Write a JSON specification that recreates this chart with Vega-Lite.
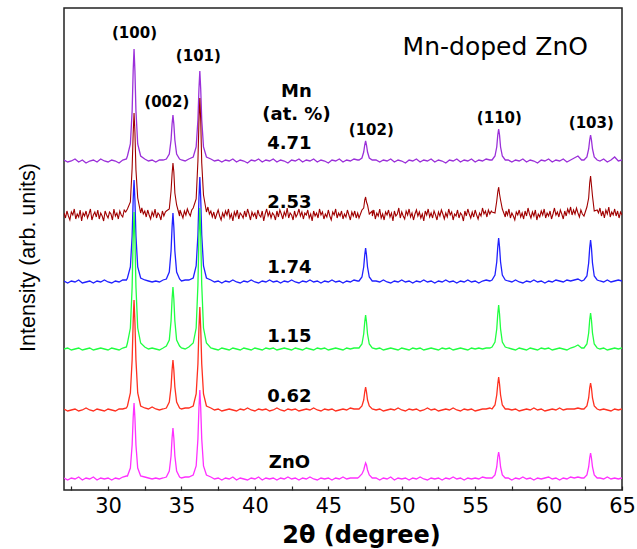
{
"$schema": "https://vega.github.io/schema/vega-lite/v6.json",
"width": 558, "height": 482,
"autosize": "none",
"padding": {"left": 64, "top": 8, "right": 15, "bottom": 59},
"background": "white",
"config": {"view": {"stroke": "#222222", "strokeWidth": 1.5}, "axis": {"grid": false}},
"resolve": {"axis": {"x": "independent"}},
"datasets": {
"xrd": [
{"x":27.00,"s471":330,"s174":209,"s115":141,"s062":81,"zno":12},
{"x":27.25,"s471":328,"s174":207,"s115":142,"s062":79,"zno":10},
{"x":27.50,"s471":329,"s174":209,"s115":140,"s062":80,"zno":12},
{"x":27.75,"s471":331,"s174":208,"s115":141,"s062":81,"zno":11},
{"x":28.00,"s471":328,"s174":210,"s115":142,"s062":79,"zno":13},
{"x":28.25,"s471":330,"s174":207,"s115":140,"s062":80,"zno":10},
{"x":28.50,"s471":327,"s174":208,"s115":141,"s062":82,"zno":12},
{"x":28.75,"s471":329,"s174":209,"s115":142,"s062":80,"zno":11},
{"x":29.00,"s471":330,"s174":207,"s115":140,"s062":79,"zno":13},
{"x":29.25,"s471":328,"s174":209,"s115":141,"s062":81,"zno":10},
{"x":29.50,"s471":331,"s174":208,"s115":142,"s062":80,"zno":12},
{"x":29.75,"s471":329,"s174":210,"s115":141,"s062":79,"zno":11},
{"x":30.00,"s471":328,"s174":208,"s115":140,"s062":81,"zno":12},
{"x":30.25,"s471":330,"s174":207,"s115":142,"s062":80,"zno":10},
{"x":30.50,"s471":329,"s174":209,"s115":141,"s062":79,"zno":12},
{"x":30.75,"s471":327,"s174":208,"s115":140,"s062":81,"zno":11},
{"x":31.00,"s471":330,"s174":210,"s115":142,"s062":81,"zno":13},
{"x":31.25,"s471":331,"s174":210,"s115":143,"s062":82,"zno":14},
{"x":31.32,"s471":334,"s174":212,"s115":147,"s062":84,"zno":14},
{"x":31.52,"s471":346,"s174":223,"s115":162,"s062":97,"zno":22},
{"x":31.64,"s471":379,"s174":254,"s115":203,"s062":130,"zno":45},
{"x":31.71,"s471":419,"s174":290,"s115":251,"s062":168,"zno":72},
{"x":31.77,"s471":441,"s174":310,"s115":278,"s062":190,"zno":87},
{"x":31.83,"s471":419,"s174":290,"s115":251,"s062":168,"zno":72},
{"x":31.90,"s471":379,"s174":254,"s115":203,"s062":130,"zno":45},
{"x":32.02,"s471":346,"s174":223,"s115":162,"s062":97,"zno":22},
{"x":32.22,"s471":334,"s174":212,"s115":147,"s062":84,"zno":14},
{"x":32.50,"s471":331,"s174":210,"s115":143,"s062":82,"zno":13},
{"x":32.75,"s471":329,"s174":209,"s115":141,"s062":81,"zno":12},
{"x":33.00,"s471":330,"s174":208,"s115":142,"s062":83,"zno":11},
{"x":33.25,"s471":328,"s174":209,"s115":141,"s062":81,"zno":12},
{"x":33.50,"s471":330,"s174":208,"s115":140,"s062":80,"zno":11},
{"x":33.75,"s471":330,"s174":210,"s115":142,"s062":81,"zno":12},
{"x":33.97,"s471":331,"s174":211,"s115":144,"s062":82,"zno":13},
{"x":34.17,"s471":336,"s174":218,"s115":150,"s062":88,"zno":19},
{"x":34.29,"s471":350,"s174":239,"s115":169,"s062":103,"zno":34},
{"x":34.36,"s471":366,"s174":263,"s115":191,"s062":120,"zno":52},
{"x":34.42,"s471":375,"s174":277,"s115":203,"s062":130,"zno":62},
{"x":34.48,"s471":366,"s174":263,"s115":191,"s062":120,"zno":52},
{"x":34.55,"s471":350,"s174":239,"s115":169,"s062":103,"zno":34},
{"x":34.67,"s471":336,"s174":218,"s115":150,"s062":88,"zno":19},
{"x":34.87,"s471":331,"s174":211,"s115":144,"s062":82,"zno":13},
{"x":35.00,"s471":330,"s174":209,"s115":142,"s062":81,"zno":12},
{"x":35.25,"s471":329,"s174":210,"s115":141,"s062":82,"zno":13},
{"x":35.50,"s471":331,"s174":210,"s115":143,"s062":82,"zno":13},
{"x":35.80,"s471":333,"s174":212,"s115":147,"s062":84,"zno":15},
{"x":36.00,"s471":343,"s174":224,"s115":162,"s062":96,"zno":24},
{"x":36.12,"s471":370,"s174":255,"s115":205,"s062":126,"zno":51},
{"x":36.19,"s471":401,"s174":292,"s115":254,"s062":162,"zno":82},
{"x":36.25,"s471":419,"s174":313,"s115":282,"s062":183,"zno":100},
{"x":36.31,"s471":401,"s174":292,"s115":254,"s062":162,"zno":82},
{"x":36.38,"s471":370,"s174":255,"s115":205,"s062":126,"zno":51},
{"x":36.50,"s471":343,"s174":224,"s115":162,"s062":96,"zno":24},
{"x":36.70,"s471":333,"s174":212,"s115":147,"s062":84,"zno":15},
{"x":37.00,"s471":331,"s174":210,"s115":142,"s062":82,"zno":13},
{"x":37.25,"s471":329,"s174":208,"s115":141,"s062":80,"zno":11},
{"x":37.50,"s471":330,"s174":209,"s115":140,"s062":81,"zno":12},
{"x":37.75,"s471":328,"s174":207,"s115":142,"s062":79,"zno":10},
{"x":38.00,"s471":330,"s174":209,"s115":141,"s062":80,"zno":12},
{"x":38.25,"s471":329,"s174":208,"s115":140,"s062":81,"zno":11},
{"x":38.50,"s471":331,"s174":210,"s115":142,"s062":80,"zno":13},
{"x":38.75,"s471":328,"s174":208,"s115":141,"s062":79,"zno":10},
{"x":39.00,"s471":330,"s174":207,"s115":140,"s062":81,"zno":12},
{"x":39.25,"s471":329,"s174":209,"s115":142,"s062":80,"zno":11},
{"x":39.50,"s471":327,"s174":208,"s115":141,"s062":82,"zno":10},
{"x":39.75,"s471":330,"s174":210,"s115":140,"s062":80,"zno":12},
{"x":40.00,"s471":329,"s174":208,"s115":142,"s062":79,"zno":11},
{"x":40.25,"s471":331,"s174":207,"s115":141,"s062":81,"zno":13},
{"x":40.50,"s471":328,"s174":209,"s115":140,"s062":80,"zno":10},
{"x":40.75,"s471":330,"s174":208,"s115":142,"s062":81,"zno":12},
{"x":41.00,"s471":329,"s174":210,"s115":141,"s062":79,"zno":11},
{"x":41.25,"s471":331,"s174":208,"s115":142,"s062":80,"zno":12},
{"x":41.50,"s471":328,"s174":209,"s115":140,"s062":82,"zno":10},
{"x":41.75,"s471":330,"s174":207,"s115":141,"s062":80,"zno":12},
{"x":42.00,"s471":329,"s174":209,"s115":142,"s062":79,"zno":11},
{"x":42.25,"s471":327,"s174":208,"s115":141,"s062":81,"zno":13},
{"x":42.50,"s471":330,"s174":210,"s115":140,"s062":80,"zno":11},
{"x":42.75,"s471":329,"s174":208,"s115":142,"s062":81,"zno":12},
{"x":43.00,"s471":331,"s174":207,"s115":141,"s062":79,"zno":10},
{"x":43.25,"s471":328,"s174":209,"s115":140,"s062":80,"zno":12},
{"x":43.50,"s471":330,"s174":208,"s115":142,"s062":81,"zno":11},
{"x":43.75,"s471":329,"s174":210,"s115":141,"s062":80,"zno":13},
{"x":44.00,"s471":331,"s174":208,"s115":140,"s062":82,"zno":11},
{"x":44.25,"s471":328,"s174":209,"s115":142,"s062":80,"zno":10},
{"x":44.50,"s471":330,"s174":207,"s115":141,"s062":79,"zno":12},
{"x":44.75,"s471":329,"s174":209,"s115":142,"s062":81,"zno":11},
{"x":45.00,"s471":327,"s174":208,"s115":140,"s062":80,"zno":12},
{"x":45.25,"s471":330,"s174":210,"s115":141,"s062":81,"zno":10},
{"x":45.50,"s471":329,"s174":208,"s115":142,"s062":79,"zno":12},
{"x":45.75,"s471":331,"s174":209,"s115":141,"s062":80,"zno":11},
{"x":46.00,"s471":328,"s174":207,"s115":140,"s062":81,"zno":13},
{"x":46.25,"s471":330,"s174":209,"s115":142,"s062":80,"zno":11},
{"x":46.50,"s471":329,"s174":208,"s115":141,"s062":82,"zno":12},
{"x":46.75,"s471":331,"s174":210,"s115":142,"s062":81,"zno":12},
{"x":47.00,"s471":330,"s174":209,"s115":142,"s062":81,"zno":12},
{"x":47.09,"s471":330,"s174":209,"s115":142,"s062":81,"zno":13},
{"x":47.29,"s471":332,"s174":213,"s115":146,"s062":84,"zno":16},
{"x":47.41,"s471":338,"s174":223,"s115":156,"s062":90,"zno":20},
{"x":47.48,"s471":345,"s174":235,"s115":168,"s062":98,"zno":24},
{"x":47.54,"s471":349,"s174":242,"s115":175,"s062":103,"zno":27},
{"x":47.60,"s471":345,"s174":235,"s115":168,"s062":98,"zno":25},
{"x":47.67,"s471":338,"s174":223,"s115":156,"s062":90,"zno":20},
{"x":47.79,"s471":332,"s174":213,"s115":146,"s062":84,"zno":15},
{"x":47.99,"s471":330,"s174":209,"s115":142,"s062":81,"zno":12},
{"x":48.25,"s471":330,"s174":209,"s115":141,"s062":80,"zno":12},
{"x":48.50,"s471":328,"s174":208,"s115":142,"s062":81,"zno":10},
{"x":48.75,"s471":330,"s174":210,"s115":140,"s062":79,"zno":12},
{"x":49.00,"s471":329,"s174":208,"s115":141,"s062":80,"zno":11},
{"x":49.25,"s471":331,"s174":207,"s115":142,"s062":81,"zno":13},
{"x":49.50,"s471":328,"s174":209,"s115":141,"s062":80,"zno":10},
{"x":49.75,"s471":330,"s174":208,"s115":140,"s062":82,"zno":12},
{"x":50.00,"s471":329,"s174":210,"s115":142,"s062":80,"zno":11},
{"x":50.25,"s471":327,"s174":208,"s115":141,"s062":79,"zno":12},
{"x":50.50,"s471":330,"s174":209,"s115":140,"s062":81,"zno":10},
{"x":50.75,"s471":329,"s174":207,"s115":142,"s062":80,"zno":12},
{"x":51.00,"s471":331,"s174":209,"s115":141,"s062":81,"zno":11},
{"x":51.25,"s471":328,"s174":208,"s115":142,"s062":79,"zno":13},
{"x":51.50,"s471":330,"s174":210,"s115":140,"s062":80,"zno":11},
{"x":51.75,"s471":329,"s174":208,"s115":141,"s062":82,"zno":10},
{"x":52.00,"s471":331,"s174":209,"s115":142,"s062":80,"zno":12},
{"x":52.25,"s471":328,"s174":207,"s115":141,"s062":81,"zno":11},
{"x":52.50,"s471":330,"s174":209,"s115":140,"s062":79,"zno":12},
{"x":52.75,"s471":329,"s174":208,"s115":142,"s062":80,"zno":10},
{"x":53.00,"s471":327,"s174":210,"s115":141,"s062":81,"zno":12},
{"x":53.25,"s471":330,"s174":208,"s115":142,"s062":80,"zno":11},
{"x":53.50,"s471":329,"s174":209,"s115":140,"s062":82,"zno":13},
{"x":53.75,"s471":331,"s174":207,"s115":141,"s062":80,"zno":11},
{"x":54.00,"s471":328,"s174":209,"s115":142,"s062":79,"zno":12},
{"x":54.25,"s471":330,"s174":208,"s115":141,"s062":81,"zno":10},
{"x":54.50,"s471":329,"s174":210,"s115":140,"s062":80,"zno":12},
{"x":54.75,"s471":331,"s174":208,"s115":142,"s062":81,"zno":11},
{"x":55.00,"s471":328,"s174":209,"s115":141,"s062":79,"zno":12},
{"x":55.25,"s471":330,"s174":207,"s115":142,"s062":80,"zno":11},
{"x":55.50,"s471":329,"s174":209,"s115":141,"s062":81,"zno":13},
{"x":55.75,"s471":331,"s174":210,"s115":142,"s062":81,"zno":12},
{"x":56.00,"s471":330,"s174":209,"s115":142,"s062":82,"zno":12},
{"x":56.15,"s471":330,"s174":210,"s115":143,"s062":81,"zno":12},
{"x":56.35,"s471":334,"s174":215,"s115":148,"s062":85,"zno":15},
{"x":56.47,"s471":343,"s174":228,"s115":161,"s062":95,"zno":23},
{"x":56.54,"s471":355,"s174":243,"s115":176,"s062":106,"zno":33},
{"x":56.60,"s471":361,"s174":252,"s115":185,"s062":113,"zno":38},
{"x":56.66,"s471":355,"s174":243,"s115":176,"s062":106,"zno":33},
{"x":56.73,"s471":343,"s174":228,"s115":161,"s062":95,"zno":23},
{"x":56.85,"s471":334,"s174":215,"s115":148,"s062":85,"zno":15},
{"x":57.05,"s471":330,"s174":210,"s115":143,"s062":81,"zno":12},
{"x":57.25,"s471":330,"s174":209,"s115":142,"s062":81,"zno":12},
{"x":57.50,"s471":328,"s174":208,"s115":141,"s062":80,"zno":10},
{"x":57.75,"s471":330,"s174":210,"s115":140,"s062":81,"zno":12},
{"x":58.00,"s471":329,"s174":208,"s115":142,"s062":79,"zno":11},
{"x":58.25,"s471":331,"s174":207,"s115":141,"s062":80,"zno":13},
{"x":58.50,"s471":328,"s174":209,"s115":140,"s062":81,"zno":11},
{"x":58.75,"s471":330,"s174":208,"s115":142,"s062":80,"zno":12},
{"x":59.00,"s471":329,"s174":210,"s115":141,"s062":82,"zno":10},
{"x":59.25,"s471":327,"s174":208,"s115":140,"s062":80,"zno":12},
{"x":59.50,"s471":330,"s174":209,"s115":142,"s062":81,"zno":11},
{"x":59.75,"s471":329,"s174":207,"s115":141,"s062":79,"zno":12},
{"x":60.00,"s471":331,"s174":209,"s115":142,"s062":80,"zno":13},
{"x":60.25,"s471":328,"s174":208,"s115":140,"s062":81,"zno":11},
{"x":60.50,"s471":330,"s174":210,"s115":141,"s062":80,"zno":12},
{"x":60.75,"s471":329,"s174":209,"s115":142,"s062":82,"zno":10},
{"x":61.00,"s471":331,"s174":208,"s115":141,"s062":80,"zno":12},
{"x":61.25,"s471":328,"s174":210,"s115":140,"s062":81,"zno":11},
{"x":61.50,"s471":330,"s174":209,"s115":142,"s062":81,"zno":13},
{"x":61.75,"s471":332,"s174":210,"s115":143,"s062":81,"zno":12},
{"x":62.00,"s471":334,"s174":211,"s115":145,"s062":82,"zno":13},
{"x":62.25,"s471":330,"s174":209,"s115":142,"s062":81,"zno":12},
{"x":62.41,"s471":330,"s174":210,"s115":142,"s062":81,"zno":12},
{"x":62.61,"s471":333,"s174":214,"s115":146,"s062":84,"zno":15},
{"x":62.73,"s471":341,"s174":227,"s115":157,"s062":92,"zno":23},
{"x":62.80,"s471":350,"s174":242,"s115":170,"s062":102,"zno":32},
{"x":62.86,"s471":355,"s174":250,"s115":177,"s062":107,"zno":37},
{"x":62.92,"s471":350,"s174":242,"s115":170,"s062":102,"zno":32},
{"x":62.99,"s471":341,"s174":227,"s115":157,"s062":92,"zno":23},
{"x":63.11,"s471":333,"s174":214,"s115":146,"s062":84,"zno":15},
{"x":63.31,"s471":330,"s174":210,"s115":142,"s062":81,"zno":12},
{"x":63.50,"s471":329,"s174":209,"s115":141,"s062":80,"zno":12},
{"x":63.75,"s471":331,"s174":208,"s115":142,"s062":81,"zno":11},
{"x":64.00,"s471":328,"s174":210,"s115":140,"s062":80,"zno":13},
{"x":64.25,"s471":330,"s174":208,"s115":141,"s062":79,"zno":11},
{"x":64.50,"s471":333,"s174":209,"s115":142,"s062":81,"zno":12},
{"x":64.75,"s471":329,"s174":210,"s115":141,"s062":80,"zno":11},
{"x":65.00,"s471":330,"s174":209,"s115":142,"s062":81,"zno":12}
],
"darkred": [
{"x":27.0,"v":277},{"x":27.1,"v":272},{"x":27.2,"v":279},{"x":27.3,"v":274},{"x":27.4,"v":270},{"x":27.5,"v":278},{"x":27.6,"v":275},{"x":27.7,"v":281},{"x":27.8,"v":271},{"x":27.9,"v":276},
{"x":28.0,"v":273},{"x":28.1,"v":280},{"x":28.2,"v":269},{"x":28.3,"v":277},{"x":28.4,"v":274},{"x":28.5,"v":279},{"x":28.6,"v":272},{"x":28.7,"v":276},{"x":28.8,"v":281},{"x":28.9,"v":270},
{"x":29.0,"v":275},{"x":29.1,"v":278},{"x":29.2,"v":273},{"x":29.3,"v":280},{"x":29.4,"v":271},{"x":29.5,"v":277},{"x":29.6,"v":274},{"x":29.7,"v":269},{"x":29.8,"v":279},{"x":29.9,"v":275},
{"x":30.0,"v":272},{"x":30.1,"v":278},{"x":30.2,"v":276},{"x":30.3,"v":270},{"x":30.4,"v":281},{"x":30.5,"v":274},{"x":30.6,"v":277},{"x":30.7,"v":271},{"x":30.8,"v":279},{"x":30.9,"v":275},
{"x":31.0,"v":273},{"x":31.1,"v":280},{"x":31.2,"v":278},
{"x":31.32,"v":281},{"x":31.52,"v":288},{"x":31.64,"v":322},{"x":31.71,"v":356},{"x":31.77,"v":377},{"x":31.83,"v":358},{"x":31.90,"v":320},{"x":32.02,"v":292},{"x":32.22,"v":277},
{"x":32.3,"v":282},{"x":32.4,"v":276},{"x":32.5,"v":279},{"x":32.6,"v":273},{"x":32.7,"v":280},{"x":32.8,"v":275},{"x":32.9,"v":271},{"x":33.0,"v":278},{"x":33.1,"v":274},{"x":33.2,"v":281},
{"x":33.3,"v":272},{"x":33.4,"v":277},{"x":33.5,"v":275},{"x":33.6,"v":270},{"x":33.7,"v":279},{"x":33.8,"v":274},{"x":33.9,"v":278},
{"x":33.97,"v":279},{"x":34.17,"v":281},{"x":34.29,"v":299},{"x":34.36,"v":316},{"x":34.42,"v":327},{"x":34.48,"v":318},{"x":34.55,"v":297},{"x":34.67,"v":285},{"x":34.87,"v":274},
{"x":34.9,"v":280},{"x":35.0,"v":276},{"x":35.1,"v":272},{"x":35.2,"v":279},{"x":35.3,"v":275},{"x":35.4,"v":281},{"x":35.5,"v":277},{"x":35.6,"v":274},{"x":35.7,"v":280},
{"x":35.80,"v":282},{"x":36.00,"v":291},{"x":36.12,"v":329},{"x":36.19,"v":368},{"x":36.25,"v":392},{"x":36.31,"v":370},{"x":36.38,"v":327},{"x":36.50,"v":295},{"x":36.70,"v":278},
{"x":36.8,"v":283},{"x":36.9,"v":276},{"x":37.0,"v":279},{"x":37.1,"v":273},{"x":37.2,"v":278},{"x":37.3,"v":271},{"x":37.4,"v":276},{"x":37.5,"v":280},{"x":37.6,"v":274},{"x":37.7,"v":270},
{"x":37.8,"v":277},{"x":37.9,"v":273},{"x":38.0,"v":279},{"x":38.1,"v":275},{"x":38.2,"v":281},{"x":38.3,"v":272},{"x":38.4,"v":276},{"x":38.5,"v":269},{"x":38.6,"v":278},{"x":38.7,"v":274},
{"x":38.8,"v":280},{"x":38.9,"v":271},{"x":39.0,"v":277},{"x":39.1,"v":275},{"x":39.2,"v":272},{"x":39.3,"v":279},{"x":39.4,"v":273},{"x":39.5,"v":281},{"x":39.6,"v":276},{"x":39.7,"v":270},
{"x":39.8,"v":278},{"x":39.9,"v":274},{"x":40.0,"v":277},{"x":40.1,"v":271},{"x":40.2,"v":280},{"x":40.3,"v":275},{"x":40.4,"v":273},{"x":40.5,"v":279},{"x":40.6,"v":269},{"x":40.7,"v":276},
{"x":40.8,"v":281},{"x":40.9,"v":274},{"x":41.0,"v":278},{"x":41.1,"v":272},{"x":41.2,"v":277},{"x":41.3,"v":275},{"x":41.4,"v":270},{"x":41.5,"v":279},{"x":41.6,"v":273},{"x":41.7,"v":280},
{"x":41.8,"v":276},{"x":41.9,"v":271},{"x":42.0,"v":278},{"x":42.1,"v":274},{"x":42.2,"v":282},{"x":42.3,"v":272},{"x":42.4,"v":277},{"x":42.5,"v":275},{"x":42.6,"v":270},{"x":42.7,"v":279},
{"x":42.8,"v":273},{"x":42.9,"v":276},{"x":43.0,"v":281},{"x":43.1,"v":274},{"x":43.2,"v":278},{"x":43.3,"v":271},{"x":43.4,"v":277},{"x":43.5,"v":275},{"x":43.6,"v":280},{"x":43.7,"v":272},
{"x":43.8,"v":276},{"x":43.9,"v":269},{"x":44.0,"v":279},{"x":44.1,"v":274},{"x":44.2,"v":277},{"x":44.3,"v":272},{"x":44.4,"v":281},{"x":44.5,"v":275},{"x":44.6,"v":278},{"x":44.7,"v":271},
{"x":44.8,"v":276},{"x":44.9,"v":273},{"x":45.0,"v":280},{"x":45.1,"v":274},{"x":45.2,"v":270},{"x":45.3,"v":278},{"x":45.4,"v":275},{"x":45.5,"v":281},{"x":45.6,"v":272},{"x":45.7,"v":277},
{"x":45.8,"v":274},{"x":45.9,"v":279},{"x":46.0,"v":271},{"x":46.1,"v":276},{"x":46.2,"v":273},{"x":46.3,"v":280},{"x":46.4,"v":275},{"x":46.5,"v":270},{"x":46.6,"v":278},{"x":46.7,"v":274},
{"x":46.8,"v":279},{"x":46.9,"v":272},{"x":47.0,"v":277},
{"x":47.09,"v":272},{"x":47.29,"v":280},{"x":47.41,"v":282},{"x":47.48,"v":290},{"x":47.54,"v":293},{"x":47.60,"v":288},{"x":47.67,"v":285},{"x":47.79,"v":276},{"x":47.99,"v":279},
{"x":48.0,"v":274},{"x":48.1,"v":280},{"x":48.2,"v":271},{"x":48.3,"v":277},{"x":48.4,"v":274},{"x":48.5,"v":281},{"x":48.6,"v":272},{"x":48.7,"v":276},{"x":48.8,"v":270},{"x":48.9,"v":278},
{"x":49.0,"v":275},{"x":49.1,"v":280},{"x":49.2,"v":273},{"x":49.3,"v":277},{"x":49.4,"v":269},{"x":49.5,"v":279},{"x":49.6,"v":274},{"x":49.7,"v":276},{"x":49.8,"v":282},{"x":49.9,"v":272},
{"x":50.0,"v":278},{"x":50.1,"v":274},{"x":50.2,"v":271},{"x":50.3,"v":279},{"x":50.4,"v":275},{"x":50.5,"v":281},{"x":50.6,"v":273},{"x":50.7,"v":277},{"x":50.8,"v":270},{"x":50.9,"v":276},
{"x":51.0,"v":280},{"x":51.1,"v":274},{"x":51.2,"v":278},{"x":51.3,"v":272},{"x":51.4,"v":276},{"x":51.5,"v":269},{"x":51.6,"v":279},{"x":51.7,"v":275},{"x":51.8,"v":281},{"x":51.9,"v":273},
{"x":52.0,"v":277},{"x":52.1,"v":272},{"x":52.2,"v":279},{"x":52.3,"v":275},{"x":52.4,"v":270},{"x":52.5,"v":278},{"x":52.6,"v":274},{"x":52.7,"v":280},{"x":52.8,"v":276},{"x":52.9,"v":271},
{"x":53.0,"v":277},{"x":53.1,"v":273},{"x":53.2,"v":281},{"x":53.3,"v":275},{"x":53.4,"v":278},{"x":53.5,"v":270},{"x":53.6,"v":276},{"x":53.7,"v":274},{"x":53.8,"v":280},{"x":53.9,"v":272},
{"x":54.0,"v":277},{"x":54.1,"v":275},{"x":54.2,"v":269},{"x":54.3,"v":279},{"x":54.4,"v":274},{"x":54.5,"v":281},{"x":54.6,"v":276},{"x":54.7,"v":272},{"x":54.8,"v":278},{"x":54.9,"v":273},
{"x":55.0,"v":280},{"x":55.1,"v":275},{"x":55.2,"v":271},{"x":55.3,"v":277},{"x":55.4,"v":274},{"x":55.5,"v":282},{"x":55.6,"v":276},{"x":55.7,"v":279},{"x":55.8,"v":273},{"x":55.9,"v":280},
{"x":56.0,"v":276},{"x":56.1,"v":279},
{"x":56.15,"v":278},{"x":56.35,"v":277},{"x":56.47,"v":289},{"x":56.54,"v":298},{"x":56.60,"v":303},{"x":56.66,"v":296},{"x":56.73,"v":290},{"x":56.85,"v":281},{"x":57.05,"v":273},
{"x":57.1,"v":279},{"x":57.2,"v":275},{"x":57.3,"v":281},{"x":57.4,"v":272},{"x":57.5,"v":277},{"x":57.6,"v":274},{"x":57.7,"v":270},{"x":57.8,"v":278},{"x":57.9,"v":275},
{"x":58.0,"v":280},{"x":58.1,"v":273},{"x":58.2,"v":277},{"x":58.3,"v":271},{"x":58.4,"v":279},{"x":58.5,"v":274},{"x":58.6,"v":282},{"x":58.7,"v":276},{"x":58.8,"v":272},{"x":58.9,"v":278},
{"x":59.0,"v":274},{"x":59.1,"v":280},{"x":59.2,"v":270},{"x":59.3,"v":276},{"x":59.4,"v":273},{"x":59.5,"v":279},{"x":59.6,"v":275},{"x":59.7,"v":281},{"x":59.8,"v":272},{"x":59.9,"v":277},
{"x":60.0,"v":274},{"x":60.1,"v":279},{"x":60.2,"v":271},{"x":60.3,"v":276},{"x":60.4,"v":282},{"x":60.5,"v":275},{"x":60.6,"v":278},{"x":60.7,"v":273},{"x":60.8,"v":280},{"x":60.9,"v":276},
{"x":61.0,"v":271},{"x":61.1,"v":279},{"x":61.2,"v":274},{"x":61.3,"v":281},{"x":61.4,"v":277},{"x":61.5,"v":283},{"x":61.6,"v":275},{"x":61.7,"v":280},{"x":61.8,"v":276},{"x":61.9,"v":282},
{"x":62.0,"v":277},{"x":62.1,"v":273},{"x":62.2,"v":280},{"x":62.3,"v":276},
{"x":62.41,"v":274},{"x":62.61,"v":283},{"x":62.73,"v":292},{"x":62.80,"v":307},{"x":62.86,"v":314},{"x":62.92,"v":305},{"x":62.99,"v":294},{"x":63.11,"v":279},{"x":63.31,"v":280},
{"x":63.4,"v":277},{"x":63.5,"v":282},{"x":63.6,"v":274},{"x":63.7,"v":279},{"x":63.8,"v":272},{"x":63.9,"v":280},
{"x":64.0,"v":276},{"x":64.1,"v":283},{"x":64.2,"v":273},{"x":64.3,"v":278},{"x":64.4,"v":275},{"x":64.5,"v":281},{"x":64.6,"v":274},{"x":64.7,"v":279},{"x":64.8,"v":272},{"x":64.9,"v":278},
{"x":65.0,"v":275}
],
"labels": [
{"kind":"peak","text":"(100)","x":31.8,"y":457},
{"kind":"peak","text":"(002)","x":34.0,"y":388},
{"kind":"peak","text":"(101)","x":36.15,"y":434},
{"kind":"peak","text":"(102)","x":47.93,"y":360},
{"kind":"peak","text":"(110)","x":56.65,"y":372},
{"kind":"peak","text":"(103)","x":62.91,"y":367},
{"kind":"sample","text":"Mn","x":42.83,"y":398},
{"kind":"sample","text":"(at. %)","x":42.83,"y":375},
{"kind":"sample","text":"4.71","x":42.35,"y":346},
{"kind":"sample","text":"2.53","x":42.35,"y":287},
{"kind":"sample","text":"1.74","x":42.35,"y":222},
{"kind":"sample","text":"1.15","x":42.35,"y":153},
{"kind":"sample","text":"0.62","x":42.35,"y":93},
{"kind":"sample","text":"ZnO","x":42.35,"y":27},
{"kind":"title","text":"Mn-doped ZnO","x":56.37,"y":443}
]
},
"layer": [
{
"data": {"name": "xrd"},
"transform": [{"fold": ["s471"], "as": ["series","intensity"]}],
"mark": {"type": "line", "strokeWidth": 1.3, "clip": true},
"encoding": {
"x": {"field": "x", "type": "quantitative",
"scale": {"domain": [27, 65], "nice": false, "zero": false},
"axis": {"orient": "bottom", "values": [30,35,40,45,50,55,60,65],
"labelFlush": false, "labelOverlap": false,
"domain": false, "ticks": false,
"labelPadding": 5, "labelFont": "DejaVu Sans", "labelFontSize": 21, "labelColor": "black",
"title": "2θ (degree)", "titleFont": "DejaVu Sans", "titleFontSize": 24, "titleFontWeight": "bold",
"titleColor": "black", "titleX": 297, "titleY": 45, "titleAlign": "center", "titleBaseline": "middle"}},
"y": {"field": "intensity", "type": "quantitative",
"scale": {"domain": [0, 482], "nice": false},
"axis": {"labels": false, "ticks": false, "domain": false,
"title": "Intensity (arb. units)", "titleFont": "Liberation Sans", "titleFontSize": 21.5,
"titleFontWeight": "normal", "titleColor": "black",
"titleX": -36, "titleY": 249, "titleAlign": "center", "titleBaseline": "middle", "titleAngle": 270}},
"color": {"field": "series", "type": "nominal",
"scale": {"domain": ["s471","s253","s174","s115","s062","zno"],
"range": ["#9b30d9","#a00000","#2020ff","#20ff40","#ff3020","#ff30ff"]},
"legend": null}
}
},
{
"data": {"name": "darkred"},
"mark": {"type": "line", "strokeWidth": 1.1, "clip": true},
"encoding": {
"x": {"field": "x", "type": "quantitative", "axis": null},
"y": {"field": "v", "type": "quantitative"},
"color": {"datum": "s253", "type": "nominal", "legend": null}
}
},
{
"data": {"name": "xrd"},
"transform": [{"fold": ["s174","s115","s062","zno"], "as": ["series","intensity"]}],
"mark": {"type": "line", "strokeWidth": 1.3, "clip": true},
"encoding": {
"x": {"field": "x", "type": "quantitative",
"axis": {"orient": "top", "offset": -482, "values": [27.5,30,32.5,35,37.5,40,42.5,45,47.5,50,52.5,55,57.5,60,62.5,65],
"labels": false, "domain": false, "tickSize": 4, "tickColor": "#222222", "tickWidth": 1.2, "title": null}},
"y": {"field": "intensity", "type": "quantitative"},
"color": {"field": "series", "type": "nominal", "legend": null}
}
},
{
"data": {"name": "labels"},
"transform": [{"filter": "datum.kind === 'peak'"}],
"mark": {"type": "text", "font": "DejaVu Sans", "fontWeight": "bold", "fontSize": 15, "color": "black", "baseline": "middle", "align": "center"},
"encoding": {
"x": {"field": "x", "type": "quantitative", "axis": null},
"y": {"field": "y", "type": "quantitative"},
"text": {"field": "text"}
}
},
{
"data": {"name": "labels"},
"transform": [{"filter": "datum.kind === 'sample'"}],
"mark": {"type": "text", "font": "DejaVu Sans", "fontWeight": "bold", "fontSize": 18, "color": "black", "baseline": "middle", "align": "center"},
"encoding": {
"x": {"field": "x", "type": "quantitative", "axis": null},
"y": {"field": "y", "type": "quantitative"},
"text": {"field": "text"}
}
},
{
"data": {"name": "labels"},
"transform": [{"filter": "datum.kind === 'title'"}],
"mark": {"type": "text", "font": "DejaVu Sans", "fontWeight": "normal", "fontSize": 25, "color": "black", "baseline": "middle", "align": "center"},
"encoding": {
"x": {"field": "x", "type": "quantitative", "axis": null},
"y": {"field": "y", "type": "quantitative"},
"text": {"field": "text"}
}
}
]
}
